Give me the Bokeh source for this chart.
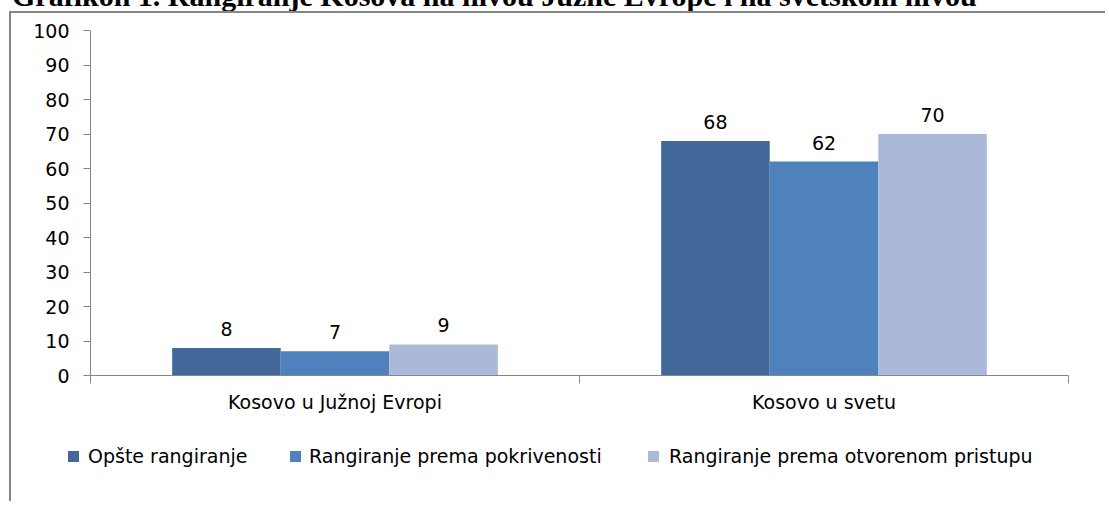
from bokeh.plotting import figure
from bokeh.layouts import column
from bokeh.models import (ColumnDataSource, Range1d, LinearAxis, FixedTicker,
                          LabelSet, Div)
from bokeh.transform import dodge
from bokeh.embed import file_html
from bokeh.resources import INLINE
from bokeh.core.properties import value

# ---- data ----
categories = ["Kosovo u Južnoj Evropi", "Kosovo u svetu"]
series_names = ["Opšte rangiranje", "Rangiranje prema pokrivenosti",
                "Rangiranje prema otvorenom pristupu"]
opste = [8, 68]
pokrivenost = [7, 62]
otvoreni = [9, 70]
y_ticks = [0, 10, 20, 30, 40, 50, 60, 70, 80, 90, 100]
title_text = "Grafikon 1. Rangiranje Kosova na nivou Južne Evrope i na svetskom nivou"

# ---- style ----
colors = ["#416898", "#4F81BD", "#AAB9D7"]
AXIS = "#868686"
FONT = "DejaVu Sans"
FS = "19px"
W = 1096
H1 = 422   # chart part
H2 = 68    # legend part

n = len(categories)
centers = [i + 0.5 for i in range(n)]          # category slot centres
series = [opste, pokrivenost, otvoreni]
data = {"cat": categories, "xc": centers}
for i, s in enumerate(series):
    data[f"v{i}"] = s
    data[f"t{i}"] = [str(v) for v in s]
src = ColumnDataSource(data)

p = figure(x_range=Range1d(0, n), y_range=Range1d(y_ticks[0], y_ticks[-1]),
           width=W, height=H1, output_backend="svg", toolbar_location=None,
           x_axis_location=None,
           min_border_left=79, min_border_right=W - 1057,
           min_border_top=17, min_border_bottom=H1 - 362)
p.styles = {"margin-left": "9px", "border-left": f"2px solid {AXIS}",
            "border-top": f"2px solid {AXIS}"}
p.title.visible = False
p.outline_line_color = None
p.xgrid.grid_line_color = None
p.ygrid.grid_line_color = None

# y axis
yax = p.yaxis[0]
yax.ticker = FixedTicker(ticks=y_ticks)
yax.axis_line_color = AXIS
yax.major_tick_line_color = AXIS
yax.major_tick_out = 7
yax.major_tick_in = 0
yax.minor_tick_line_color = None
yax.major_label_standoff = 14
yax.major_label_text_font = FONT
yax.major_label_text_font_size = FS
yax.major_label_text_color = "#000000"

# x axis: category names at slot centres, tick marks at slot boundaries
xax = LinearAxis(ticker=FixedTicker(ticks=centers, minor_ticks=list(range(n + 1))),
                 major_label_overrides={c: name for c, name in zip(centers, categories)})
xax.axis_line_color = AXIS
xax.major_tick_line_color = None
xax.major_tick_out = 0
xax.major_tick_in = 0
xax.minor_tick_line_color = AXIS
xax.minor_tick_out = 8
xax.minor_tick_in = 0
xax.major_label_standoff = 7
xax.major_label_text_font = FONT
xax.major_label_text_font_size = FS
xax.major_label_text_color = "#000000"
p.add_layout(xax, "below")

# bars + value labels
bw = 0.222
offsets = [-bw, 0.0, bw]
for i in range(3):
    p.vbar(x=dodge("xc", offsets[i]), top=f"v{i}", width=bw,
           source=src, fill_color=colors[i], line_color=None)
    p.add_layout(LabelSet(x=dodge("xc", offsets[i]), y=f"v{i}",
                          text=f"t{i}", source=src, y_offset=12,
                          text_align="center", text_baseline="alphabetic",
                          text_font=value(FONT), text_font_size=FS, text_color="#000000"))

# legend strip below the chart, inside the frame box
marker_left = [57, 279, 637]
text_left = [77, 298, 658]
items_html = ""
for i in range(3):
    items_html += (
        f'<span style="position:absolute;left:{marker_left[i]}px;top:18px;width:11px;'
        f'height:11px;background:{colors[i]};"></span>'
        f'<span style="position:absolute;left:{text_left[i]}px;top:12px;line-height:23px;'
        f'font-family:\'{FONT}\';font-size:{FS};color:#000;white-space:nowrap;">'
        f'{series_names[i]}</span>')
legend_div = Div(text=f'<div style="position:relative;width:1090px;height:{H2}px;">{items_html}</div>',
                 width=W, height=H2, margin=(0, 0, 0, 9),
                 styles={"border-left": f"2px solid {AXIS}"})

# title of the figure, cut off at the top edge as in the reference
title = Div(text=(f'<div style="position:relative;top:-19px;left:12px;'
                  f'font-family:\'Liberation Serif\';font-weight:bold;font-size:30px;'
                  f'line-height:30px;white-space:nowrap;color:#000;">{title_text}</div>'),
            width=1100, height=11, margin=(0, 0, 0, 0), styles={"overflow": "hidden"})

layout = column(title, p, legend_div, spacing=0)
open("out.html", "w").write(file_html(layout, INLINE))
